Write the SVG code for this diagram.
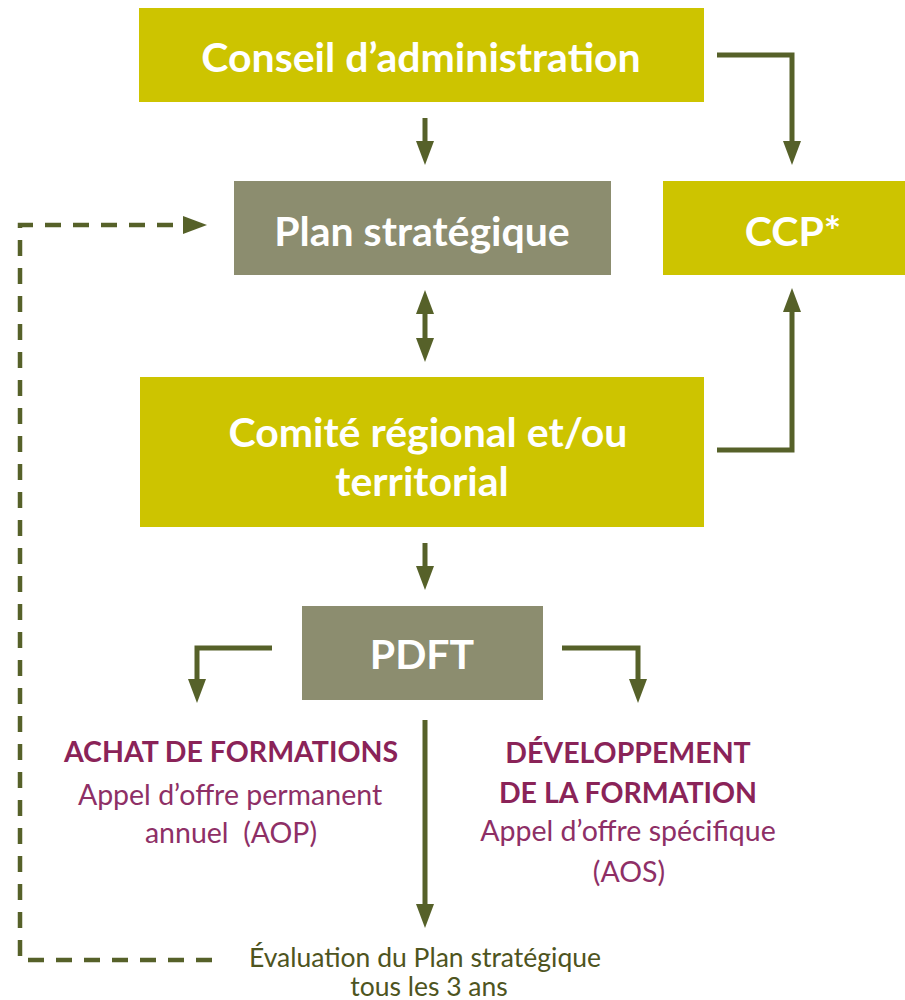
<svg xmlns="http://www.w3.org/2000/svg" width="905" height="1000" viewBox="0 0 905 1000">
  <style>
    .yel { fill: #cdc400; }
    .gry { fill: #8c8d6f; }
    .bt { font-family: Lato, "Open Sans", "Liberation Sans", sans-serif; font-weight: bold; fill: #ffffff; text-anchor: middle; font-size: 41px; }
    .head { font-family: Lato, "Open Sans", "Liberation Sans", sans-serif; font-weight: bold; fill: #8a2358; text-anchor: middle; font-size: 28.5px; }
    .body { font-family: Lato, "Open Sans", "Liberation Sans", sans-serif; fill: #8e2f66; text-anchor: middle; font-size: 28.5px; }
    .eval { font-family: Lato, "Open Sans", "Liberation Sans", sans-serif; fill: #4e5420; text-anchor: middle; font-size: 26.5px; }
    .conn { fill: none; stroke: #566129; stroke-width: 5; stroke-linejoin: miter; }
    .dash { stroke-dasharray: 16 12; stroke-width: 4.5; }
  </style>
  <defs>
    <marker id="ah" viewBox="0 0 24 18" refX="6" refY="9" markerWidth="24" markerHeight="18" markerUnits="userSpaceOnUse" orient="auto-start-reverse">
      <path d="M0,0 L24,9 L0,18 z" fill="#566129"/>
    </marker>
  </defs>

  <g id="conseil">
    <rect class="yel" x="139" y="8" width="565" height="94"/>
    <text class="bt" x="421" y="72">Conseil d’administration</text>
  </g>
  <g id="plan">
    <rect class="gry" x="234" y="181" width="377" height="94"/>
    <text class="bt" x="422" y="246">Plan stratégique</text>
  </g>
  <g id="ccp">
    <rect class="yel" x="663" y="181" width="242" height="94"/>
    <text class="bt" x="793" y="246">CCP*</text>
  </g>
  <g id="comite">
    <rect class="yel" x="140" y="377" width="564" height="150"/>
    <text class="bt" x="428" y="447" font-size="38.5">Comité régional et/ou</text>
    <text class="bt" x="422" y="496" font-size="38.5">territorial</text>
  </g>
  <g id="pdft">
    <rect class="gry" x="302" y="606" width="241" height="94"/>
    <text class="bt" x="422" y="669">PDFT</text>
  </g>
  <g id="achat">
    <text class="head" x="231" y="762">ACHAT DE FORMATIONS</text>
    <text class="body" x="230" y="805">Appel d’offre permanent</text>
    <text class="body" x="231" y="843" xml:space="preserve">annuel  (AOP)</text>
  </g>
  <g id="developpement">
    <text class="head" x="628" y="763">DÉVELOPPEMENT</text>
    <text class="head" x="628" y="803">DE LA FORMATION</text>
    <text class="body" x="628" y="841">Appel d’offre spécifique</text>
    <text class="body" x="629" y="882">(AOS)</text>
  </g>
  <g id="evaluation">
    <text class="eval" x="425" y="967">Évaluation du Plan stratégique</text>
    <text class="eval" x="429" y="996">tous les 3 ans</text>
  </g>

  <g id="connectors">
    <path class="conn" d="M425,118 V147" marker-end="url(#ah)"/>
    <path class="conn" d="M425,308 V344" marker-start="url(#ah)" marker-end="url(#ah)"/>
    <path class="conn" d="M717,55 H792 V147" marker-end="url(#ah)"/>
    <path class="conn" d="M717,450 H792 V306" marker-end="url(#ah)"/>
    <path class="conn" d="M425,543 V572" marker-end="url(#ah)"/>
    <path class="conn" d="M272,648 H197 V685" marker-end="url(#ah)"/>
    <path class="conn" d="M562,648 H638 V685" marker-end="url(#ah)"/>
    <path class="conn" d="M425,720 V910" marker-end="url(#ah)"/>
    <path class="conn dash" d="M212,960 H20 V225 H189" marker-end="url(#ah)"/>
  </g>
</svg>
